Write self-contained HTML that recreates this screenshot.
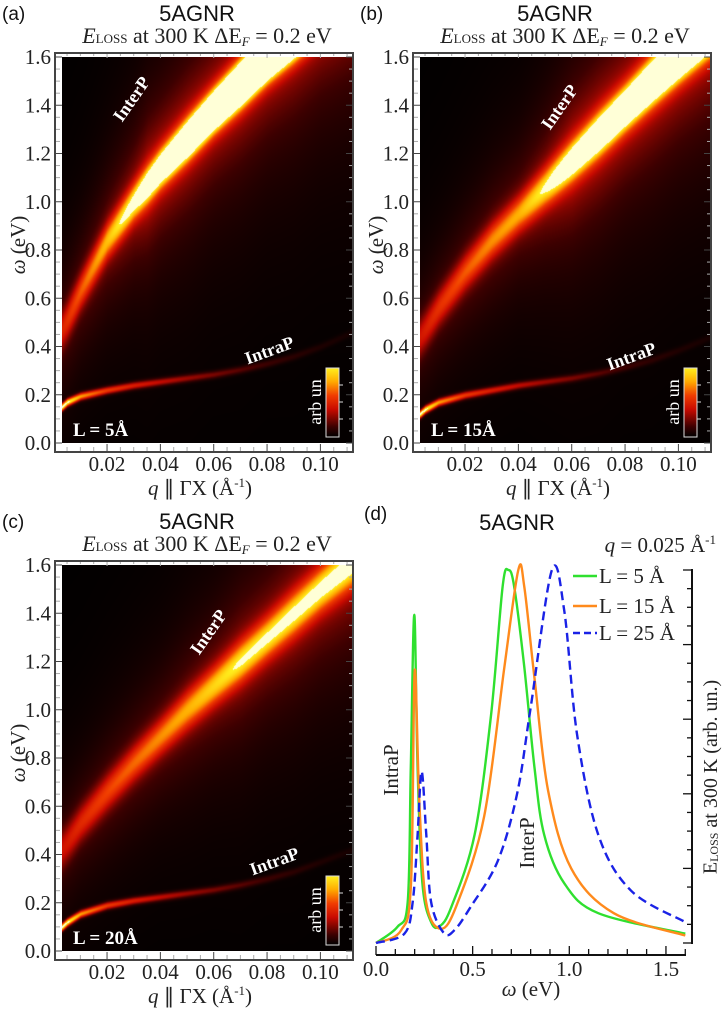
<!DOCTYPE html>
<html><head><meta charset="utf-8">
<style>
html,body{margin:0;padding:0;background:#fff;}
#wrap{position:relative;width:727px;height:1024px;overflow:hidden;background:#fff;}
canvas{position:absolute;}
svg{position:absolute;left:0;top:0;}
</style></head>
<body>
<div id="wrap">
<canvas id="heatA" width="290" height="386" style="left:62px;top:57px"></canvas>
<canvas id="heatB" width="290" height="386" style="left:420px;top:57px"></canvas>
<canvas id="heatC" width="290" height="386" style="left:62px;top:565px"></canvas>
<svg id="ov" width="727" height="1024"></svg>
</div>
<script>
// ---------- data ----------
const qGrid=[0,0.005,0.01,0.02,0.03,0.04,0.05,0.06,0.07,0.08,0.09,0.1,0.112];
const interA_w=[0.41,0.51,0.63,0.84,1.0,1.14,1.26,1.38,1.49,1.6,1.7,1.8,1.9];
const interA_amp=[0.3,0.38,0.45,0.6,0.8,1.2,1.6,2.0,2.3,2.6,2.8,3.0,3.2];
const interB_w=[0.39,0.47,0.56,0.71,0.84,0.95,1.06,1.17,1.28,1.39,1.5,1.6,1.72];
const interB_amp=[0.28,0.33,0.38,0.45,0.52,0.57,0.72,1.0,1.25,1.45,1.65,1.8,1.95];
const interC_w=[0.38,0.45,0.53,0.66,0.78,0.89,1.0,1.1,1.2,1.3,1.4,1.5,1.61];
const interC_amp=[0.28,0.32,0.36,0.42,0.47,0.52,0.57,0.64,0.71,0.73,0.75,0.77,0.8];
const inter_wid=[0.08,0.075,0.07,0.07,0.07,0.07,0.075,0.075,0.08,0.08,0.085,0.085,0.09];
const intraA_w=[0.12,0.17,0.195,0.22,0.24,0.255,0.27,0.285,0.305,0.33,0.36,0.4,0.46];
const intraB_w=[0.09,0.14,0.17,0.2,0.22,0.24,0.255,0.27,0.29,0.315,0.345,0.385,0.44];
const intraC_w=[0.07,0.12,0.155,0.19,0.21,0.225,0.24,0.255,0.275,0.3,0.33,0.37,0.42];
const intra_amp=[1.1,1.0,0.75,0.55,0.45,0.37,0.3,0.24,0.18,0.13,0.09,0.06,0.04];
const yTickLabels=["0.0","0.2","0.4","0.6","0.8","1.0","1.2","1.4","1.6"];
const xTickLabels=["0.02","0.04","0.06","0.08","0.10"];
// panel (d)
const greenX=[0,0.11,0.164,0.18,0.198,0.215,0.24,0.285,0.33,0.39,0.51,0.595,0.655,0.685,0.715,0.767,0.82,0.87,0.974,1.15,1.6];
const greenY=[0,0.043,0.11,0.47,0.88,0.47,0.16,0.056,0.045,0.097,0.29,0.61,0.955,1.0,0.955,0.74,0.47,0.29,0.16,0.08,0.025];
const orangeX=[0,0.13,0.181,0.2,0.224,0.259,0.336,0.42,0.56,0.664,0.736,0.767,0.82,0.89,1.01,1.23,1.6];
const orangeY=[0,0.034,0.16,0.73,0.38,0.11,0.038,0.105,0.34,0.74,1.0,0.955,0.71,0.41,0.2,0.08,0.02];
const blueX=[0,0.147,0.19,0.215,0.236,0.26,0.285,0.35,0.405,0.49,0.63,0.73,0.8,0.91,0.974,1.04,1.15,1.32,1.6];
const blueY=[0,0.025,0.11,0.29,0.46,0.29,0.11,0.027,0.034,0.097,0.22,0.4,0.63,1.0,0.89,0.56,0.29,0.14,0.056];
const dXTicks=["0.0","0.5","1.0","1.5"];

// ---------- helpers ----------
function lin(xs,ys,x){if(x<=xs[0])return ys[0];for(let i=1;i<xs.length;i++){if(x<=xs[i]){const t=(x-xs[i-1])/(xs[i]-xs[i-1]);return ys[i-1]+t*(ys[i]-ys[i-1]);}}return ys[ys.length-1];}
const stops=[[0,0,0,0],[0.15,60,0,0],[0.4,200,10,0],[0.6,240,60,0],[0.8,255,170,0],[1.0,255,240,30]];
function cmap(I){if(I>1)return [255,255,215];if(I<0)I=0;for(let i=1;i<stops.length;i++){if(I<=stops[i][0]){const a=stops[i-1],b=stops[i],t=(I-a[0])/(b[0]-a[0]);return [a[1]+t*(b[1]-a[1]),a[2]+t*(b[2]-a[2]),a[3]+t*(b[3]-a[3])];}}return [255,240,30];}
function drawHeat(id,iw,ia,rw){
  const c=document.getElementById(id),ctx=c.getContext('2d');const W=c.width,H=c.height;
  const img=ctx.createImageData(W,H);
  for(let x=0;x<W;x++){
    const q=(x+62-53.7)/2667;
    const wr=lin(qGrid,iw,q),A=lin(qGrid,ia,q),w=lin(qGrid,inter_wid,q);
    const wi=lin(qGrid,rw,q),Ai=lin(qGrid,intra_amp,q);
    const Hh=0.45*Math.min(A,1);
    for(let y=0;y<H;y++){
      const om=(H-y)/241.25;
      const d=(om-wr)/w;
      let I=A*Math.exp(-d*d)+Hh/(1+d*d/9);
      const di=(om-wi)/0.015;I+=Ai*Math.exp(-di*di);
      const col=cmap(I);const k=(y*W+x)*4;
      img.data[k]=col[0];img.data[k+1]=col[1];img.data[k+2]=col[2];img.data[k+3]=255;
    }
  }
  ctx.putImageData(img,0,0);
}
drawHeat('heatA',interA_w,interA_amp,intraA_w);
drawHeat('heatB',interB_w,interB_amp,intraB_w);
drawHeat('heatC',interC_w,interC_amp,intraC_w);

const NS='http://www.w3.org/2000/svg';const ov=document.getElementById('ov');
function el(tag,attrs,parent,txt){const e=document.createElementNS(NS,tag);for(const k in attrs)e.setAttribute(k,attrs[k]);if(txt!==undefined)e.textContent=txt;(parent||ov).appendChild(e);return e;}
const serif='"Liberation Serif", serif', sans='"Liberation Sans", sans-serif';

function heatPanel(dx,dy,letter,Ltxt,interPos,intraPos){
  const g=el('g',{transform:`translate(${dx},${dy})`});
  
  
  const fr=el('rect',{x:55,y:53,width:298,height:399,fill:'none',stroke:'#444','stroke-width':2},g);
  
  
  for(let i=0;i<=32;i++){const om=i*0.05;const y=443-om*241.25;const major=i%4===0;
    el('line',{x1:56,x2:major?62:60,y1:y,y2:y,stroke:major?'#444':'#aaa','stroke-width':1},g);
    el('line',{x1:352,x2:major?346:349,y1:y,y2:y,stroke:major?'#444':'#aaa','stroke-width':1},g);}
  for(let i=0;i<yTickLabels.length;i++){const y=443-i*0.2*241.25;
    const t=el('text',{x:51,y:y+7,'text-anchor':'end','font-family':serif,'font-size':21,fill:'#222'},g,yTickLabels[i]);
    
    }
  for(let i=1;i<=22;i++){const q=i*0.005;const x=53.7+q*2667;if(x>352)break;const major=i%4===0;
    el('line',{x1:x,x2:x,y1:451,y2:major?444:447,stroke:major?'#444':'#aaa','stroke-width':1},g);
    el('line',{x1:x,x2:x,y1:54,y2:major?58:56,stroke:'#aaa','stroke-width':1},g);}
  for(let i=0;i<xTickLabels.length;i++){const x=53.7+(i+1)*0.02*2667;
    const t=el('text',{x:x,y:471,'text-anchor':'middle','font-family':serif,'font-size':21,fill:'#222'},g,xTickLabels[i]);
    
    }
  const xl=el('text',{x:200,y:495,'text-anchor':'middle','font-family':serif,'font-size':21,fill:'#222'},g);
  
  
  xl.innerHTML='<tspan font-style="italic">q</tspan> ∥ ΓX (Å<tspan font-size="13" dy="-8">-1</tspan><tspan dy="8">)</tspan>';
  const yl=el('text',{x:0,y:0,transform:'translate(20,245) rotate(-90)','text-anchor':'middle','dominant-baseline':'middle','font-family':serif,'font-size':21,fill:'#222'},g);
  
  
  yl.innerHTML='<tspan font-style="italic">ω</tspan> (eV)';
  const pl=el('text',{x:2,y:20,'font-family':sans,'font-size':19,fill:'#111'},g,'('+letter+')');
  
  
  const t1=el('text',{x:197,y:21,'text-anchor':'middle','font-family':sans,'font-size':22,fill:'#111'},g,'5AGNR');
  
  
  const t2=el('text',{x:207,y:43,'text-anchor':'middle','font-family':serif,'font-size':22,fill:'#222'},g);
  
  
  t2.innerHTML='<tspan font-style="italic">E</tspan><tspan font-size="13">LOSS</tspan> at 300 K  ΔE<tspan font-size="13" font-style="italic" dy="3">F</tspan><tspan dy="-3"> = 0.2 eV</tspan>';
  const lt=el('text',{x:73,y:436,'font-family':serif,'font-size':19,'font-weight':'bold',fill:'#fff'},g,Ltxt);
  
  
  const ip=el('text',{x:0,y:0,transform:`translate(${interPos[0]},${interPos[1]}) rotate(-55)`,'text-anchor':'middle','dominant-baseline':'middle','font-family':serif,'font-size':18,'font-weight':'bold',fill:'#fff'},g,'InterP');
  
  
  const ia=el('text',{x:0,y:0,transform:`translate(${intraPos[0]},${intraPos[1]}) rotate(-20)`,'text-anchor':'middle','dominant-baseline':'middle','font-family':serif,'font-size':18,'font-weight':'bold',fill:'#fff'},g,'IntraP');
  
  
  const gid='cb'+letter;const defs=el('defs',{},g);
  const lg=el('linearGradient',{id:gid,x1:0,y1:1,x2:0,y2:0},defs);
  [[0,'#000'],[0.15,'#3c0000'],[0.4,'#c80a00'],[0.6,'#f03c00'],[0.8,'#ffaa00'],[1,'#fff01e']].forEach(s=>el('stop',{offset:s[0],'stop-color':s[1]},lg));
  const cb=el('rect',{x:326,y:368,width:13,height:69,fill:`url(#${gid})`,stroke:'#ddd','stroke-width':1},g);
  
  
  for(let i=1;i<4;i++){const y=368+i*17;el('line',{x1:339,x2:343,y1:y,y2:y,stroke:'#ddd','stroke-width':1},g);}
  const cl=el('text',{x:0,y:0,transform:'translate(317,402) rotate(-90)','text-anchor':'middle','dominant-baseline':'middle','font-family':serif,'font-size':18,fill:'#fff'},g,'arb un');
  
  
}
heatPanel(0,0,'a','L = 5Å',[133,100],[270,352]);
heatPanel(358,0,'b','L = 15Å',[203,108],[274,358]);
heatPanel(0,508,'c','L = 20Å',[210,125],[275,355]);

// ---------- panel (d) ----------
const gd=el('g',{});


const X=w=>376+w*193.3, Y=v=>943-v*373;
el('line',{x1:376,x2:686,y1:955,y2:955,stroke:'#111','stroke-width':2},gd);
el('line',{x1:692,x2:692,y1:569,y2:944,stroke:'#111','stroke-width':2},gd);
for(let i=0;i<=16;i++){const x=X(i*0.1);const major=i%5===0;el('line',{x1:x,x2:x,y1:955,y2:major?946:949,stroke:'#111','stroke-width':1.3},gd);}
dXTicks.forEach((s,i)=>{const t=el('text',{x:X(i*0.5),y:976,'text-anchor':'middle','font-family':serif,'font-size':21,fill:'#222'},gd,s);
  
  });
for(let i=0;i<=20;i++){const y=943-i*373/20;const major=i%4===0;el('line',{x1:692,x2:major?683:687,y1:y,y2:y,stroke:'#111','stroke-width':1.3},gd);}
const dxl=el('text',{x:531,y:996,'text-anchor':'middle','font-family':serif,'font-size':21,fill:'#222'},gd);


dxl.innerHTML='<tspan font-style="italic">ω</tspan> (eV)';
const dyl=el('text',{x:0,y:0,transform:'translate(712,777) rotate(-90)','text-anchor':'middle','dominant-baseline':'middle','font-family':serif,'font-size':20,fill:'#222'},gd);


dyl.innerHTML='E<tspan font-size="12" dy="3">LOSS</tspan><tspan dy="-3"> at 300 K (arb. un.)</tspan>';
const dl=el('text',{x:364,y:520,'font-family':sans,'font-size':19,fill:'#111'},gd,'(d)');


const dt=el('text',{x:517,y:530,'text-anchor':'middle','font-family':sans,'font-size':22,fill:'#111'},gd,'5AGNR');


const dq=el('text',{x:716,y:552,'text-anchor':'end','font-family':serif,'font-size':21,fill:'#222'},gd);


dq.innerHTML='<tspan font-style="italic">q</tspan> = 0.025 Å<tspan font-size="13" dy="-8">-1</tspan>';
function smooth(xs,ys){const p=xs.map((x,i)=>[X(x),Y(ys[i])]);let d='M'+p[0][0].toFixed(1)+','+p[0][1].toFixed(1);
  for(let i=0;i<p.length-1;i++){const p0=p[Math.max(0,i-1)],p1=p[i],p2=p[i+1],p3=p[Math.min(p.length-1,i+2)];
    const c1=[p1[0]+(p2[0]-p0[0])/6,p1[1]+(p2[1]-p0[1])/6],c2=[p2[0]-(p3[0]-p1[0])/6,p2[1]-(p3[1]-p1[1])/6];
    d+=` C${c1[0].toFixed(1)},${c1[1].toFixed(1)} ${c2[0].toFixed(1)},${c2[1].toFixed(1)} ${p2[0].toFixed(1)},${p2[1].toFixed(1)}`;}
  return d;}
const cg=el('path',{d:smooth(greenX,greenY),fill:'none',stroke:'#2fe02f','stroke-width':2.4},gd);


const co=el('path',{d:smooth(orangeX,orangeY),fill:'none',stroke:'#ff8a1c','stroke-width':2.4},gd);


const cbl=el('path',{d:smooth(blueX,blueY),fill:'none',stroke:'#1a22e6','stroke-width':2.4,'stroke-dasharray':'9,5'},gd);


const legend=[['L = 5 Å','#2fe02f',576,null],['L = 15 Å','#ff8a1c',606,null],['L = 25 Å','#1a22e6',633,'7,4']];
legend.forEach(r=>{const lg=el('g',{},gd);
  
  
  const a={x1:573,x2:597,y1:r[2],y2:r[2],stroke:r[1],'stroke-width':2.4};if(r[3])a['stroke-dasharray']=r[3];el('line',a,lg);
  el('text',{x:599,y:r[2]+7,'font-family':serif,'font-size':21,fill:'#222'},lg,r[0]);});
const il=el('text',{x:0,y:0,transform:'translate(393,770) rotate(-90)','text-anchor':'middle','dominant-baseline':'middle','font-family':serif,'font-size':21,fill:'#222'},gd,'IntraP');


const itl=el('text',{x:0,y:0,transform:'translate(529,843) rotate(-90)','text-anchor':'middle','dominant-baseline':'middle','font-family':serif,'font-size':21,fill:'#222'},gd,'InterP');


</script>
</body></html>
